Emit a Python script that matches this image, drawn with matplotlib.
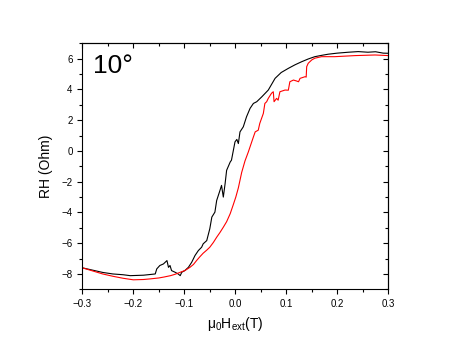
import matplotlib
matplotlib.use('Agg')
import matplotlib.pyplot as plt
from matplotlib.ticker import MultipleLocator, NullFormatter

plt.rcParams['font.family'] = ['Liberation Sans', 'DejaVu Sans']
plt.rcParams['mathtext.fontset'] = 'custom'
plt.rcParams['mathtext.rm'] = 'Liberation Sans'
plt.rcParams['mathtext.it'] = 'Liberation Sans:italic'

# black sweep
field_black = [-0.3, -0.28, -0.26, -0.24, -0.22, -0.206, -0.18, -0.157, -0.154, -0.148,
               -0.141, -0.134, -0.131, -0.128, -0.125, -0.118, -0.112, -0.108, -0.105,
               -0.099, -0.092, -0.0855, -0.079, -0.0725, -0.066, -0.063, -0.056, -0.05,
               -0.046, -0.04, -0.0365, -0.03, -0.027, -0.0235, -0.02, -0.017, -0.01,
               -0.0075, -0.0006, 0.003, 0.006, 0.0092, 0.0157, 0.022, 0.029, 0.0355,
               0.042, 0.052, 0.0647, 0.078, 0.09, 0.104, 0.117, 0.13, 0.143, 0.156,
               0.17, 0.182, 0.2, 0.222, 0.241, 0.26, 0.275, 0.29, 0.3]
rh_black = [-7.6, -7.75, -7.9, -8.0, -8.05, -8.11, -8.08, -8.0, -7.67, -7.45,
            -7.35, -7.13, -7.57, -7.45, -7.78, -7.89, -8.0, -8.11, -7.89,
            -7.78, -7.57, -7.24, -6.8, -6.48, -6.26, -6.04, -5.83, -5.06,
            -4.3, -3.98, -3.22, -2.56, -2.24, -3.0, -2.13, -1.26, -0.72,
            -0.6, 0.59, 0.75, 0.48, 1.24, 1.57, 2.22, 2.77, 3.09,
            3.2, 3.52, 3.96, 4.72, 5.1, 5.37, 5.6, 5.8, 5.98, 6.13,
            6.22, 6.29, 6.36, 6.42, 6.46, 6.42, 6.45, 6.36, 6.35]

# red sweep
field_red = [-0.3, -0.28, -0.26, -0.24, -0.22, -0.2, -0.18, -0.167, -0.15, -0.14,
             -0.127, -0.118, -0.108, -0.099, -0.089, -0.082, -0.076, -0.07, -0.063,
             -0.056, -0.05, -0.043, -0.0365, -0.03, -0.0235, -0.017, -0.01, -0.004,
             0.001, 0.006, 0.0125, 0.019, 0.0255, 0.0355, 0.039, 0.045, 0.048, 0.055,
             0.058, 0.0615, 0.0647, 0.071, 0.0745, 0.076, 0.081, 0.084, 0.0875, 0.0975,
             0.104, 0.107, 0.114, 0.12, 0.124, 0.127, 0.137, 0.139, 0.14, 0.143, 0.15,
             0.156, 0.169, 0.195, 0.235, 0.274, 0.3]
rh_red = [-7.6, -7.8, -8.0, -8.15, -8.28, -8.38, -8.36, -8.32, -8.26, -8.2,
          -8.11, -8.02, -7.89, -7.78, -7.57, -7.38, -7.13, -6.9, -6.65,
          -6.45, -6.26, -5.95, -5.61, -5.3, -4.96, -4.6, -4.08, -3.5,
          -3.0, -2.4, -1.4, -0.65, -0.07, 0.91, 1.24, 1.35, 1.79, 2.44,
          3.09, 3.2, 3.42, 3.75, 3.85, 3.2, 3.42, 3.3, 3.85, 3.96,
          3.95, 4.5, 4.61, 4.55, 4.5, 4.72, 4.83, 4.8, 5.48, 5.7, 5.92,
          6.03, 6.13, 6.13, 6.2, 6.24, 6.2]

fig = plt.figure(figsize=(4.56, 3.52), dpi=100)
ax = fig.add_axes([0.1805, 0.178, 0.671, 0.699])

ax.plot(field_black, rh_black, color='black', lw=0.8)
ax.plot(field_red, rh_red, color='red', lw=0.8)

ax.set_xlim(-0.3, 0.3)
ax.set_ylim(-9, 7)
ax.xaxis.set_major_locator(MultipleLocator(0.1))
ax.xaxis.set_minor_locator(MultipleLocator(0.05))
ax.yaxis.set_major_locator(MultipleLocator(2))
ax.yaxis.set_minor_locator(MultipleLocator(1))
ax.tick_params(which='both', labelsize=7, width=0.8, direction='out')
ax.tick_params(which='major', length=3.5)
ax.tick_params(which='minor', length=2)
for s in ax.spines.values():
    s.set_linewidth(0.8)

# inward ticks on top and right
top = ax.secondary_xaxis('top')
right = ax.secondary_yaxis('right')
for sec, loc_major, loc_minor in [(top, 0.1, 0.05), (right, 2, 1)]:
    axis = sec.xaxis if sec is top else sec.yaxis
    axis.set_major_locator(MultipleLocator(loc_major))
    axis.set_minor_locator(MultipleLocator(loc_minor))
    axis.set_major_formatter(NullFormatter())
    sec.tick_params(which='both', direction='in', width=0.8)
    sec.tick_params(which='major', length=3.5)
    sec.tick_params(which='minor', length=2)
    for s in sec.spines.values():
        s.set_linewidth(0.8)

ax.set_xlabel(r'$\mathrm{\mu_0H_{ext}(T)}$', fontsize=10, labelpad=4)
ax.set_ylabel('RH (Ohm)', fontsize=10, labelpad=6)
ax.text(0.035, 0.955, '10°', transform=ax.transAxes, fontsize=19, va='top', ha='left')

fig.savefig('out.png', dpi=100)
